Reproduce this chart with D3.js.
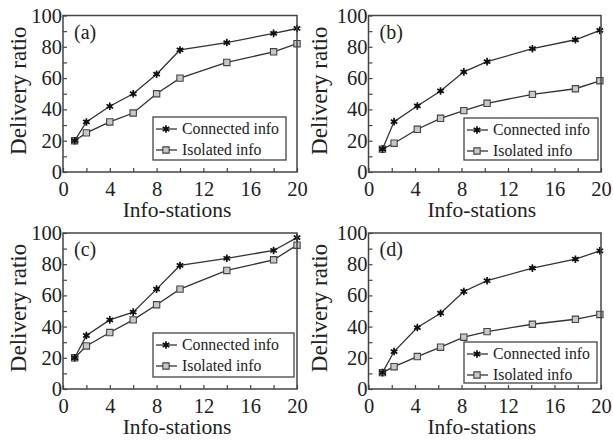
<!DOCTYPE html>
<html>
<head>
<meta charset="utf-8">
<script src="https://cdn.jsdelivr.net/npm/d3@7"></script>
<style>
body{margin:0;background:#fff}
text{font-family:"Liberation Serif","Times New Roman",serif;fill:#222}
</style>
</head>
<body>
<div id="chart"></div>
<script>
const stationsAC = [1, 2, 4, 6, 8, 10, 14, 18, 20]
const stationsBD = [1.2, 2.2, 4.2, 6.2, 8.2, 10.2, 14.1, 17.8, 19.9]

const connectedA = [20, 32, 42, 50, 62.5, 78, 82.7, 88.6, 91.7]
const isolatedA = [20, 25, 32, 37.7, 50, 60, 70, 76.8, 82]
const connectedB = [14.6, 32.2, 42.2, 51.8, 64, 70.5, 78.8, 84.5, 90.5]
const isolatedB = [14.6, 18.4, 27.3, 34.3, 39.2, 43.9, 49.6, 53.2, 58.3]
const connectedC = [20, 34.3, 44.3, 49.3, 64, 79.2, 83.8, 88.8, 97]
const isolatedC = [20, 27.6, 36.2, 44.3, 54, 64, 76, 82.8, 92.2]
const connectedD = [10.5, 24, 39.4, 48.6, 62.5, 69.4, 77.5, 83.2, 88.6]
const isolatedD = [10.5, 14.3, 20.8, 26.8, 33.2, 36.8, 41.5, 44.7, 47.8]

const xTicks = [0, 4, 8, 12, 16, 20]
const yTicks = [0, 20, 40, 60, 80, 100]
const seriesNames = ["Connected info", "Isolated info"]
const panelTags = ["(a)", "(b)", "(c)", "(d)"]
const xTitle = "Info-stations"
const yTitle = "Delivery ratio"

const panels = [
  {tag: panelTags[0], x: stationsAC, conn: connectedA, iso: isolatedA,
   box: {left: 63, right: 297, top: 15.5, bottom: 172}, legend: {x: 153, y: 117, w: 133, h: 43}, ylab: 37.5},
  {tag: panelTags[1], x: stationsBD, conn: connectedB, iso: isolatedB,
   box: {left: 368.5, right: 601, top: 15.5, bottom: 172}, legend: {x: 464, y: 118, w: 134, h: 42}, ylab: 41.5},
  {tag: panelTags[2], x: stationsAC, conn: connectedC, iso: isolatedC,
   box: {left: 63, right: 297, top: 233, bottom: 389}, legend: {x: 153, y: 333, w: 141, h: 44}, ylab: 37.5},
  {tag: panelTags[3], x: stationsBD, conn: connectedD, iso: isolatedD,
   box: {left: 368.5, right: 601, top: 233, bottom: 389}, legend: {x: 464, y: 342, w: 133, h: 41}, ylab: 41.5}
]

drawChart("#chart")

function drawChart(id){
    const svg = d3.select(id).append("svg").attr("width", 613).attr("height", 445)
    panels.forEach(p => drawPanel(svg, p))
}

function drawPanel(svg, p){
    const sc = addScales(p.box)
    addAxes(svg, sc, p.box)
    addSeries(svg, sc, p.x, p.iso, "square")
    addSeries(svg, sc, p.x, p.conn, "star")
    addFrame(svg, p.box)
    addLabels(svg, p)
    addLegend(svg, p.legend)
}

function addScales(box){
    const xScale = d3.scaleLinear().domain([0, 20]).range([box.left, box.right])
    const yScale = d3.scaleLinear().domain([0, 100]).range([box.bottom, box.top])
    return {xScale, yScale}
}

function addAxes(svg, sc, box){
    // inward minor ticks
    svg.append("g").attr("transform", `translate(0,${box.bottom})`)
     .call(d3.axisBottom(sc.xScale).tickValues(d3.range(0, 21, 2)).tickSize(-4).tickFormat(""))
     .call(g => g.select(".domain").remove())
     .selectAll("line").attr("stroke", "#444").attr("stroke-width", 1.2)

    svg.append("g").attr("transform", `translate(${box.left},0)`)
     .call(d3.axisLeft(sc.yScale).tickValues(d3.range(0, 101, 10)).tickSize(-4).tickFormat(""))
     .call(g => g.select(".domain").remove())
     .selectAll("line").attr("stroke", "#444").attr("stroke-width", 1.2)

    const gx = svg.append("g").attr("transform", `translate(0,${box.bottom})`)
     .call(d3.axisBottom(sc.xScale).tickValues(xTicks).tickSize(0).tickPadding(9))
    gx.select(".domain").remove()
    gx.selectAll("text").attr("font-size", "20.5px").attr("font-family", null)

    const gy = svg.append("g").attr("transform", `translate(${box.left},0)`)
     .call(d3.axisLeft(sc.yScale).tickValues(yTicks).tickSize(0).tickPadding(1))
    gy.select(".domain").remove()
    gy.selectAll("text").attr("font-size", "20.5px").attr("font-family", null)
}

function addSeries(svg, sc, xs, ys, kind){
    const data = xs.map((x, i) => ({x: x, y: ys[i]}))
    const line = d3.line().x(d => sc.xScale(d.x)).y(d => sc.yScale(d.y))

    svg.append("path").datum(data).attr("fill", "none").attr("stroke", "#333")
     .attr("stroke-width", 1.3).attr("d", line)

    svg.append("g").selectAll("g").data(data).enter()
     .append("g")
     .attr("transform", d => `translate(${sc.xScale(d.x)},${sc.yScale(d.y)})`)
     .each(function(){ addMarker(d3.select(this), kind) })
}

function addMarker(g, kind){
    if(kind === "star"){
        g.append("path").attr("d", d3.symbol(d3.symbolAsterisk, 40)).attr("fill", "none")
         .attr("stroke", "#111").attr("stroke-width", 1.7)
        g.append("circle").attr("r", 2).attr("fill", "#111")
    } else {
        g.append("path").attr("d", d3.symbol(d3.symbolSquare, 40)).attr("fill", "#c8c8c8")
         .attr("stroke", "#444").attr("stroke-width", 1.1)
    }
}

function addFrame(svg, box){
    svg.append("rect").attr("x", box.left).attr("y", box.top)
     .attr("width", box.right - box.left).attr("height", box.bottom - box.top)
     .attr("fill", "none").attr("stroke", "#444").attr("stroke-width", 1.5)
}

function addLabels(svg, p){
    const b = p.box
    svg.append("text").attr("x", b.left + 11).attr("y", b.top + 23)
     .attr("font-size", "20px").text(p.tag)

    svg.append("text").attr("x", (b.left + b.right) / 2 - 3).attr("y", b.bottom + 45)
     .attr("text-anchor", "middle").attr("font-size", "21.5px").text(xTitle)

    svg.append("text")
     .attr("transform", `translate(${b.left - p.ylab},${(b.top + b.bottom) / 2 - 3}) rotate(-90)`)
     .attr("text-anchor", "middle").attr("font-size", "23px").text(yTitle)
}

function addLegend(svg, lg){
    const g = svg.append("g").attr("transform", `translate(${lg.x},${lg.y})`)
    g.append("rect").attr("width", lg.w).attr("height", lg.h)
     .attr("fill", "#fff").attr("stroke", "#444").attr("stroke-width", 1.3)

    const rows = [{name: seriesNames[0], kind: "star", cy: 12}, {name: seriesNames[1], kind: "square", cy: 33}]
    rows.forEach(r => {
        g.append("line").attr("x1", 3).attr("x2", 24).attr("y1", r.cy).attr("y2", r.cy)
         .attr("stroke", "#333").attr("stroke-width", 1.3)
        addMarker(g.append("g").attr("transform", `translate(13,${r.cy})`), r.kind)
        g.append("text").attr("x", 29).attr("y", r.cy).attr("dy", "0.33em")
         .attr("font-size", "15.8px").text(r.name)
    })
}
</script>
</body>
</html>
